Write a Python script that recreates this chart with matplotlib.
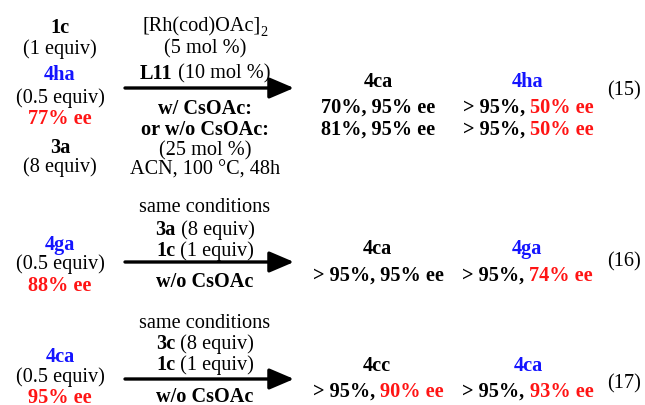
import matplotlib
matplotlib.use('Agg')
import matplotlib.pyplot as plt

plt.rcParams['font.family'] = ['Liberation Serif', 'DejaVu Serif']

BLUE = '#1414ff'
RED = '#ff1414'
K = 'black'

# text of the scheme: each line is a list of (text, bold, colour)
left_15 = [[('1c', True, K)], [('(1 equiv)', False, K)], [('4ha', True, BLUE)],
           [('(0.5 equiv)', False, K)], [('77% ee', True, RED)],
           [('3a', True, K)], [('(8 equiv)', False, K)]]
above_15 = [[('[Rh(cod)OAc]', False, K), ('2', False, K, 'sub')],
            [('(5 mol %)', False, K)],
            [('L11', True, K), (' (10 mol %)', False, K)]]
below_15 = [[('w/ CsOAc:', True, K)], [('or w/o CsOAc:', True, K)],
            [('(25 mol %)', False, K)], [('ACN, 100 °C, 48h', False, K)]]
prod_15 = [[('4ca', True, K)], [('4ha', True, BLUE)]]
yield_15 = [[('70%, 95% ee', True, K)],
            [('> 95%, ', True, K), ('50% ee', True, RED)],
            [('81%, 95% ee', True, K)],
            [('> 95%, ', True, K), ('50% ee', True, RED)]]

left_16 = [[('4ga', True, BLUE)], [('(0.5 equiv)', False, K)], [('88% ee', True, RED)]]
above_16 = [[('same conditions', False, K)],
            [('3a', True, K), (' (8 equiv)', False, K)],
            [('1c', True, K), (' (1 equiv)', False, K)]]
below_16 = [[('w/o CsOAc', True, K)]]
prod_16 = [[('4ca', True, K)], [('4ga', True, BLUE)]]
yield_16 = [[('> 95%, 95% ee', True, K)],
            [('> 95%, ', True, K), ('74% ee', True, RED)]]

left_17 = [[('4ca', True, BLUE)], [('(0.5 equiv)', False, K)], [('95% ee', True, RED)]]
above_17 = [[('same conditions', False, K)],
            [('3c', True, K), (' (8 equiv)', False, K)],
            [('1c', True, K), (' (1 equiv)', False, K)]]
below_17 = [[('w/o CsOAc', True, K)]]
prod_17 = [[('4cc', True, K)], [('4ca', True, BLUE)]]
yield_17 = [[('> 95%, ', True, K), ('90% ee', True, RED)],
            [('> 95%, ', True, K), ('93% ee', True, RED)]]

eq_labels = ['(15)', '(16)', '(17)']

FS = 14.6

fig = plt.figure(figsize=(6.45, 4.05), dpi=100)
ax = fig.add_axes([0, 0, 1, 1])
ax.set_xlim(0, 645)
ax.set_ylim(405, 0)
ax.axis('off')
renderer = fig.canvas.get_renderer()


def line(x, y, segs, size=FS):
    # draw a line made of several styled pieces, centred on x
    y = y + 2  # va='center' sits a bit high for glyphs
    texts = []
    for s in segs:
        sub = len(s) > 3
        t = ax.text(0, y + (6 if sub else 0), s[0], fontsize=size * (0.7 if sub else 1),
                    fontweight='bold' if s[1] else 'normal', color=s[2],
                    ha='left', va='center')
        texts.append(t)
    widths = [t.get_window_extent(renderer).width for t in texts]
    x0 = x - sum(widths) / 2
    for t, w in zip(texts, widths):
        t.set_x(x0)
        x0 += w


def block(x, ys, lines):
    for y, segs in zip(ys, lines):
        line(x, y, segs)


def arrow(x0, x1, y):
    ax.annotate('', xy=(x1, y), xytext=(x0, y),
                arrowprops=dict(arrowstyle='-|>,head_length=0.75,head_width=0.32',
                                lw=2.4, color='black',
                                mutation_scale=20, shrinkA=0, shrinkB=0))


# eq 15
block(60, [26, 47, 73, 96, 117, 146, 165], left_15)
block(205, [25, 47, 72], above_15)
block(205, [107, 128, 149, 168], below_15)
arrow(125, 294, 88)
line(378, 80, prod_15[0])
line(528, 80, prod_15[1])
line(378, 106, yield_15[0])
line(528, 106, yield_15[1])
line(378, 128, yield_15[2])
line(528, 128, yield_15[3])
line(624, 89, [(eq_labels[0], False, K)])

# eq 16
block(60, [243, 262, 284], left_16)
block(205, [206, 228, 249], above_16)
block(205, [280], below_16)
arrow(125, 294, 262)
line(377, 247, prod_16[0])
line(527, 247, prod_16[1])
line(378, 274, yield_16[0])
line(527, 274, yield_16[1])
line(624, 260, [(eq_labels[1], False, K)])

# eq 17
block(60, [355, 375, 396], left_17)
block(205, [321, 342, 363], above_17)
block(205, [395], below_17)
arrow(125, 294, 379)
line(377, 364, prod_17[0])
line(528, 364, prod_17[1])
line(378, 390, yield_17[0])
line(528, 390, yield_17[1])
line(624, 382, [(eq_labels[2], False, K)])

fig.savefig('out.png', dpi=100)
